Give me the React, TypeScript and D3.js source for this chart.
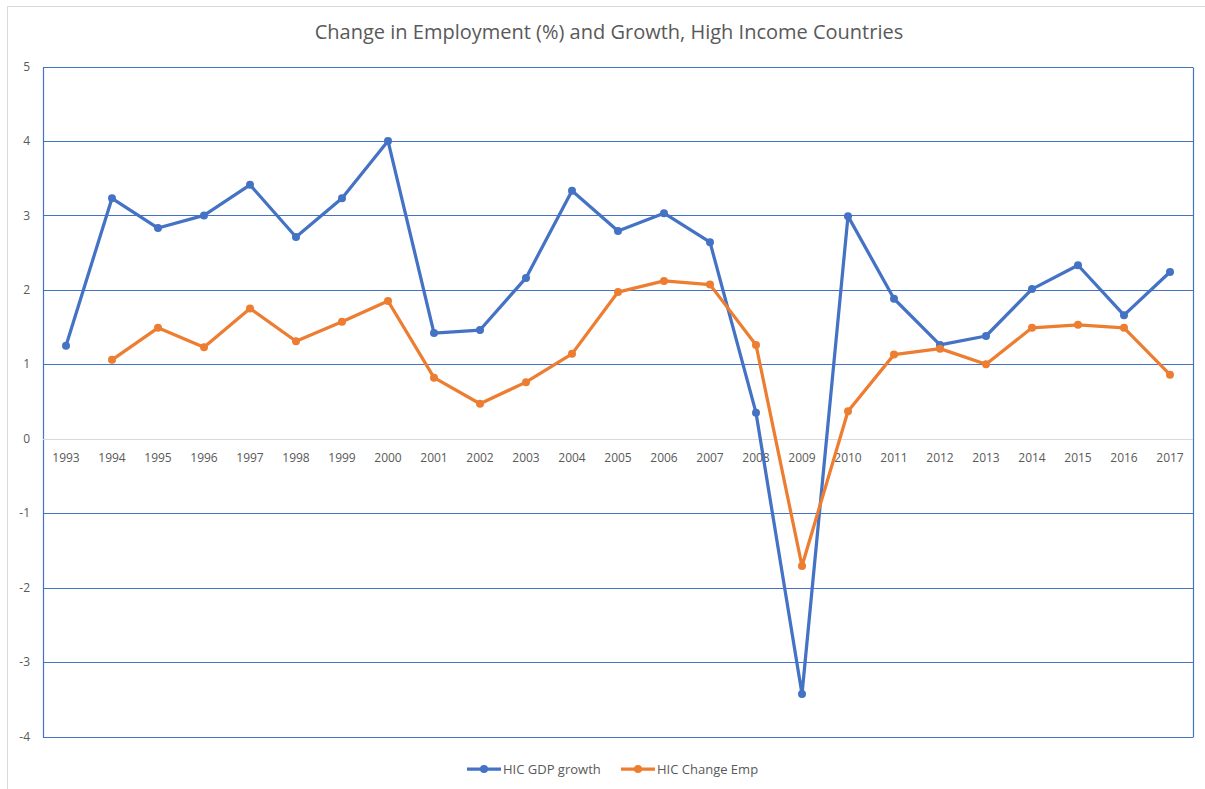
import { useEffect, useRef } from 'react'
import * as d3 from 'd3'

const years = [
  '1993', '1994', '1995', '1996', '1997', '1998', '1999', '2000', '2001', '2002', '2003', '2004', '2005',
  '2006', '2007', '2008', '2009', '2010', '2011', '2012', '2013', '2014', '2015', '2016', '2017',
]
const gdpGrowth = [
  1.25, 3.23, 2.83, 3.0, 3.41, 2.71, 3.23, 4.0, 1.42, 1.46, 2.16, 3.33, 2.79,
  3.03, 2.64, 0.35, -3.43, 2.99, 1.88, 1.26, 1.38, 2.01, 2.33, 1.66, 2.24,
]
const changeEmp: (number | null)[] = [
  null, 1.06, 1.49, 1.23, 1.75, 1.31, 1.57, 1.85, 0.82, 0.47, 0.76, 1.14, 1.97,
  2.12, 2.07, 1.26, -1.71, 0.37, 1.13, 1.21, 1.0, 1.49, 1.53, 1.49, 0.86,
]
const yTicks = [5, 4, 3, 2, 1, 0, -1, -2, -3, -4]

const series = [
  { name: 'HIC GDP growth', values: gdpGrowth, color: '#4472C4' },
  { name: 'HIC Change Emp', values: changeEmp, color: '#ED7D31' },
]

const WIDTH = 1205
const HEIGHT = 789
const FONT = '"Open Sans", "Liberation Sans", sans-serif'

export default function App() {
  const svgRef = useRef<SVGSVGElement>(null)

  useEffect(() => {
    if (!svgRef.current) return
    const svg = d3.select(svgRef.current)
    svg.selectAll('*').remove()

    const plot = { left: 43, top: 66.5, right: 1193, bottom: 736.5 }

    // outer chart border
    svg.append('rect')
      .attr('x', 7.5).attr('y', 6.5)
      .attr('width', WIDTH + 20).attr('height', HEIGHT + 20)
      .attr('fill', '#fff').attr('stroke', '#d9d9d9').attr('stroke-width', 1)

    const x = d3.scaleBand().domain(years).range([plot.left, plot.right])
    const y = d3.scaleLinear().domain([-4, 5]).range([plot.bottom, plot.top])
    const cx = (d: string) => (x(d) ?? 0) + x.bandwidth() / 2

    // title
    svg.append('text')
      .attr('x', 609).attr('y', 39)
      .attr('text-anchor', 'middle')
      .attr('font-family', FONT).attr('font-size', 20)
      .attr('fill', '#595959')
      .text('Change in Employment (%) and Growth, High Income Countries')

    // gridlines
    svg.append('g').selectAll('line')
      .data(yTicks.filter(t => t !== 0))
      .join('line')
      .attr('x1', plot.left).attr('x2', plot.right)
      .attr('y1', d => Math.round(y(d)) + 0.5).attr('y2', d => Math.round(y(d)) + 0.5)
      .attr('stroke', '#4472C4').attr('stroke-width', 1)

    // plot border verticals
    ;[plot.left, plot.right].forEach(px => {
      svg.append('line')
        .attr('x1', px + 0.5).attr('x2', px + 0.5)
        .attr('y1', Math.round(y(5)) + 0.5).attr('y2', Math.round(y(-4)) + 0.5)
        .attr('stroke', '#4472C4').attr('stroke-width', 1.2)
    })

    // zero axis
    svg.append('line')
      .attr('x1', plot.left).attr('x2', plot.right)
      .attr('y1', Math.round(y(0)) + 0.5).attr('y2', Math.round(y(0)) + 0.5)
      .attr('stroke', '#d9d9d9').attr('stroke-width', 1.2)

    // y tick labels
    svg.append('g').selectAll('text')
      .data(yTicks)
      .join('text')
      .attr('x', 30).attr('y', d => y(d))
      .attr('dy', '0.35em')
      .attr('text-anchor', 'end')
      .attr('font-family', FONT).attr('font-size', 12)
      .attr('fill', '#595959')
      .text(d => String(d))

    // x tick labels
    svg.append('g').selectAll('text')
      .data(years)
      .join('text')
      .attr('x', d => cx(d)).attr('y', y(0) + 19)
      .attr('dy', '0.35em')
      .attr('text-anchor', 'middle')
      .attr('font-family', FONT).attr('font-size', 12)
      .attr('fill', '#595959')
      .text(d => d)

    // series
    series.forEach(s => {
      const pts = s.values
        .map((v, i) => ({ year: years[i], v }))
        .filter(p => p.v !== null) as { year: string; v: number }[]
      const line = d3.line<{ year: string; v: number }>()
        .x(p => cx(p.year))
        .y(p => y(p.v))
      svg.append('path')
        .datum(pts)
        .attr('d', line)
        .attr('fill', 'none')
        .attr('stroke', s.color)
        .attr('stroke-width', 3.25)
        .attr('stroke-linejoin', 'round')
      svg.append('g').selectAll('circle')
        .data(pts)
        .join('circle')
        .attr('cx', p => cx(p.year)).attr('cy', p => y(p.v))
        .attr('r', 4)
        .attr('fill', s.color)
    })

    // legend
    const legendX = [467, 621]
    series.forEach((s, i) => {
      const lx = legendX[i]
      const ly = 769
      svg.append('line')
        .attr('x1', lx).attr('x2', lx + 34)
        .attr('y1', ly).attr('y2', ly)
        .attr('stroke', s.color).attr('stroke-width', 3.25)
      svg.append('circle')
        .attr('cx', lx + 17).attr('cy', ly).attr('r', 4)
        .attr('fill', s.color)
      svg.append('text')
        .attr('x', lx + 36).attr('y', ly)
        .attr('dy', '0.35em')
        .attr('font-family', FONT).attr('font-size', 13)
        .attr('fill', '#595959')
        .text(s.name)
    })
  }, [])

  return (
    <svg
      ref={svgRef}
      width={WIDTH}
      height={HEIGHT}
      style={{ position: 'absolute', left: 0, top: 0, background: '#fff' }}
    />
  )
}
